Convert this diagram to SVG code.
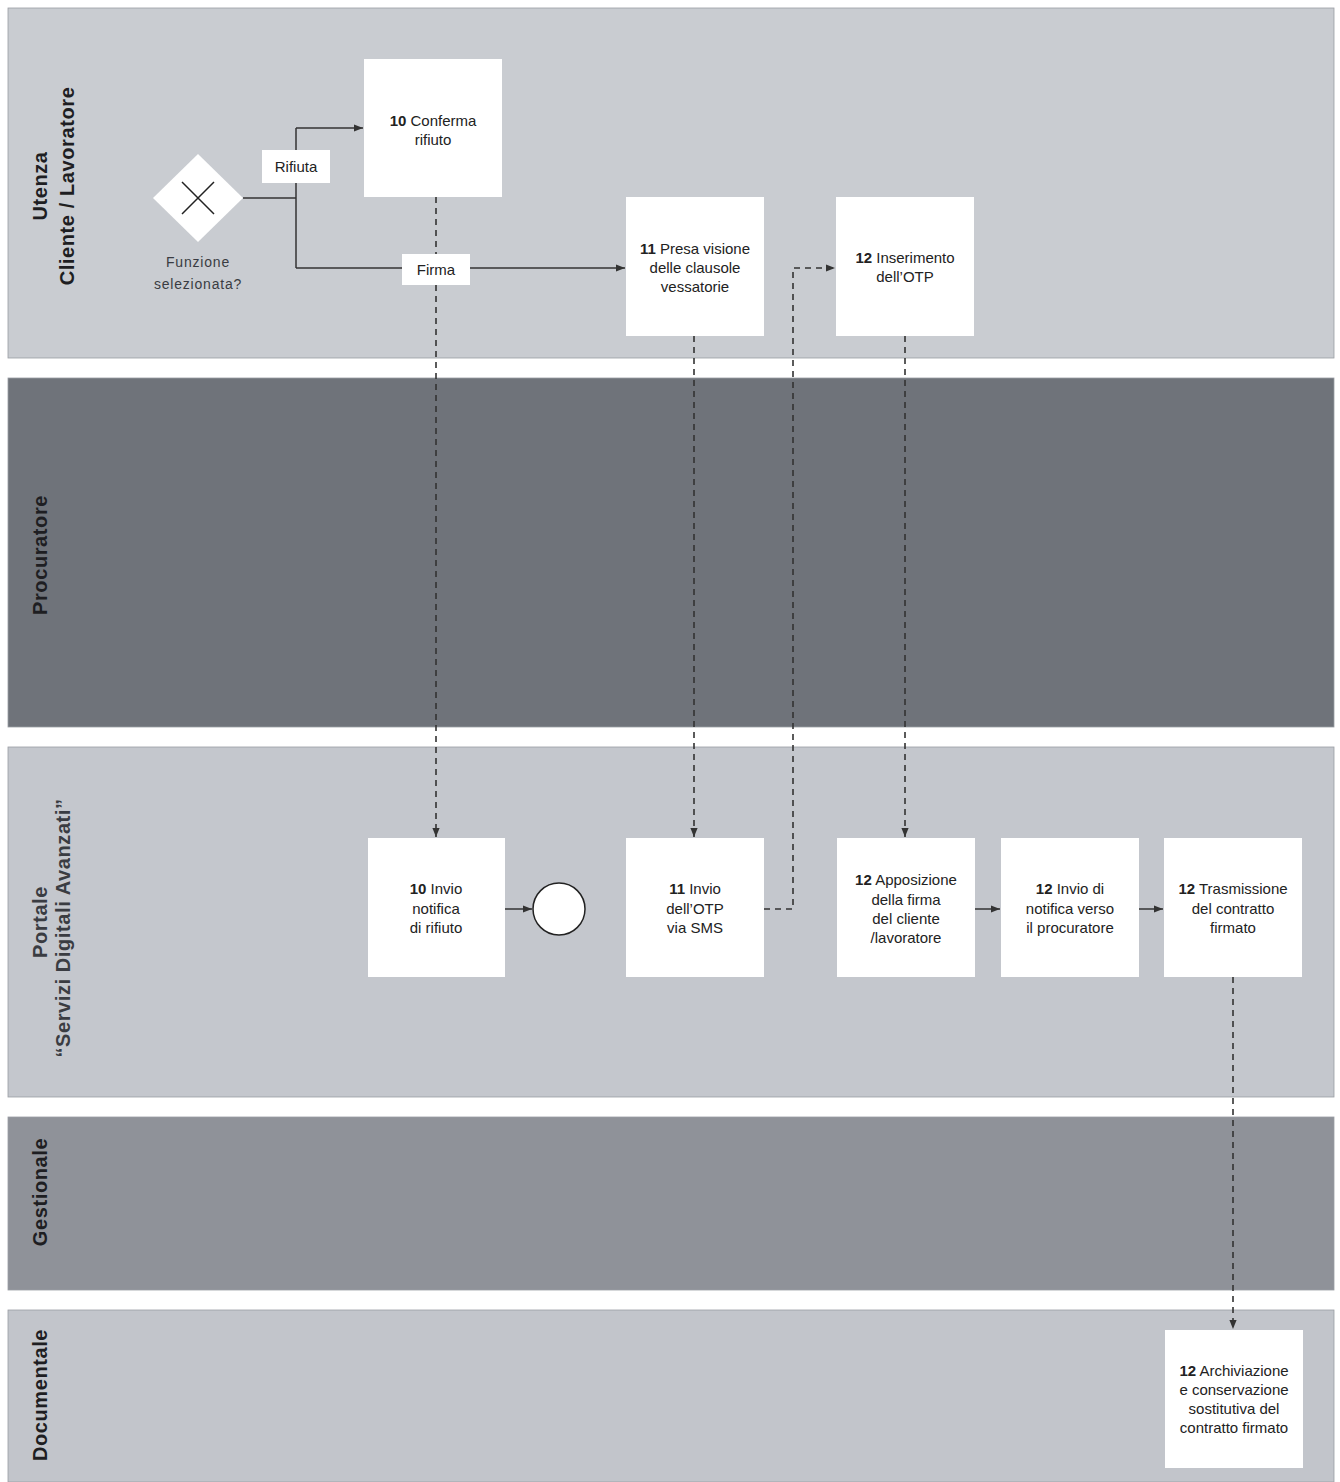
<svg xmlns="http://www.w3.org/2000/svg" width="1340" height="1482" viewBox="0 0 1340 1482">
<style>
.lane{stroke:#9a9da3;stroke-width:0.8}
.box{fill:#fff}
.t{font-family:"Liberation Sans",Arial,sans-serif;font-size:15px;fill:#222;text-anchor:middle}
.n{font-weight:bold}
.lbl{font-family:"Liberation Sans",Arial,sans-serif;font-size:20px;font-weight:bold;fill:#1e1e22;text-anchor:middle;letter-spacing:0.6px}
.sol{fill:none;stroke:#333;stroke-width:1.5}
.dash{fill:none;stroke:#333;stroke-width:1.6;stroke-dasharray:6 5}
</style>
<defs>
<marker id="ah" viewBox="0 0 10 10" refX="10" refY="5" markerWidth="9" markerHeight="9" orient="auto" markerUnits="userSpaceOnUse">
<path d="M0,1 L10,5 L0,9 Z" fill="#333"/>
</marker>
</defs>
<rect width="1340" height="1482" fill="#ffffff"/>
<g id="lanes">
<rect class="lane" x="8" y="8" width="1326" height="350" fill="#c9ccd1"/>
<rect class="lane" x="8" y="378" width="1326" height="349" fill="#6f737a"/>
<rect class="lane" x="8" y="747" width="1326" height="350" fill="#c4c7cd"/>
<rect class="lane" x="8" y="1117" width="1326" height="173" fill="#8f9299"/>
<rect class="lane" x="8" y="1310" width="1326" height="172" fill="#c2c5cb"/>
<text class="lbl" transform="translate(47,186) rotate(-90)">Utenza</text>
<text class="lbl" transform="translate(74,186) rotate(-90)">Cliente / Lavoratore</text>
<text class="lbl" transform="translate(47,555) rotate(-90)">Procuratore</text>
<text class="lbl" transform="translate(47,922) rotate(-90)" style="fill:#3a3c42">Portale</text>
<text class="lbl" transform="translate(70,928) rotate(-90)" style="fill:#3a3c42">“Servizi Digitali Avanzati”</text>
<text class="lbl" transform="translate(47,1192) rotate(-90)">Gestionale</text>
<text class="lbl" transform="translate(47,1395) rotate(-90)">Documentale</text>
</g>
<g id="connectors">
<path class="sol" d="M243,198 H296"/>
<path class="sol" d="M296,128 V268"/>
<path class="sol" d="M296,128 H363" marker-end="url(#ah)"/>
<path class="sol" d="M296,268 H625" marker-end="url(#ah)"/>
<path class="dash" d="M436,197 V837" marker-end="url(#ah)"/>
<path class="dash" d="M694,336 V837" marker-end="url(#ah)"/>
<path class="dash" d="M764,909 H793 V268 H835" marker-end="url(#ah)"/>
<path class="dash" d="M905,336 V837" marker-end="url(#ah)"/>
<path class="sol" d="M505,909 H532" marker-end="url(#ah)"/>
<path class="sol" d="M975,909 H1000" marker-end="url(#ah)"/>
<path class="sol" d="M1139,909 H1163" marker-end="url(#ah)"/>
<path class="dash" d="M1233,977 V1329" marker-end="url(#ah)"/>
<rect x="262" y="150" width="68" height="33" fill="#fff"/>
<text class="t" x="296" y="172">Rifiuta</text>
<rect x="402" y="254" width="68" height="31" fill="#fff"/>
<text class="t" x="436" y="275">Firma</text>
</g>
<g id="gateway">
<polygon points="198,154 243,198 198,242 153,198" fill="#fff"/>
<path d="M182,182 L214,214 M214,182 L182,214" stroke="#222" stroke-width="1.5"/>
<text class="t" x="198" y="267" style="fill:#3a3c42;font-size:14px;letter-spacing:0.8px">Funzione</text>
<text class="t" x="198" y="289" style="fill:#3a3c42;font-size:14px;letter-spacing:0.8px">selezionata?</text>
</g>
<g id="n10a">
<rect class="box" x="364" y="59" width="138" height="138"/>
<text class="t" x="433" y="126"><tspan class="n">10</tspan> Conferma</text>
<text class="t" x="433" y="145">rifiuto</text>
</g>
<g id="n11a">
<rect class="box" x="626" y="197" width="138" height="139"/>
<text class="t" x="695" y="254"><tspan class="n">11</tspan> Presa visione</text>
<text class="t" x="695" y="273">delle clausole</text>
<text class="t" x="695" y="292">vessatorie</text>
</g>
<g id="n12a">
<rect class="box" x="836" y="197" width="138" height="139"/>
<text class="t" x="905" y="263"><tspan class="n">12</tspan> Inserimento</text>
<text class="t" x="905" y="282">dell’OTP</text>
</g>
<g id="n10b">
<rect class="box" x="368" y="838" width="137" height="139"/>
<text class="t" x="436" y="894"><tspan class="n">10</tspan> Invio</text>
<text class="t" x="436" y="914">notifica</text>
<text class="t" x="436" y="933">di rifiuto</text>
</g>
<g id="end">
<circle cx="559" cy="909" r="26" fill="#fff" stroke="#222" stroke-width="1.5"/>
</g>
<g id="n11b">
<rect class="box" x="626" y="838" width="138" height="139"/>
<text class="t" x="695" y="894"><tspan class="n">11</tspan> Invio</text>
<text class="t" x="695" y="914">dell’OTP</text>
<text class="t" x="695" y="933">via SMS</text>
</g>
<g id="n12b">
<rect class="box" x="837" y="838" width="138" height="139"/>
<text class="t" x="906" y="885"><tspan class="n">12</tspan> Apposizione</text>
<text class="t" x="906" y="905">della firma</text>
<text class="t" x="906" y="924">del cliente</text>
<text class="t" x="906" y="943">/lavoratore</text>
</g>
<g id="n12c">
<rect class="box" x="1001" y="838" width="138" height="139"/>
<text class="t" x="1070" y="894"><tspan class="n">12</tspan> Invio di</text>
<text class="t" x="1070" y="914">notifica verso</text>
<text class="t" x="1070" y="933">il procuratore</text>
</g>
<g id="n12d">
<rect class="box" x="1164" y="838" width="138" height="139"/>
<text class="t" x="1233" y="894"><tspan class="n">12</tspan> Trasmissione</text>
<text class="t" x="1233" y="914">del contratto</text>
<text class="t" x="1233" y="933">firmato</text>
</g>
<g id="n12e">
<rect class="box" x="1165" y="1330" width="138" height="138"/>
<text class="t" x="1234" y="1376"><tspan class="n">12</tspan> Archiviazione</text>
<text class="t" x="1234" y="1395">e conservazione</text>
<text class="t" x="1234" y="1414">sostitutiva del</text>
<text class="t" x="1234" y="1433">contratto firmato</text>
</g>
</svg>
